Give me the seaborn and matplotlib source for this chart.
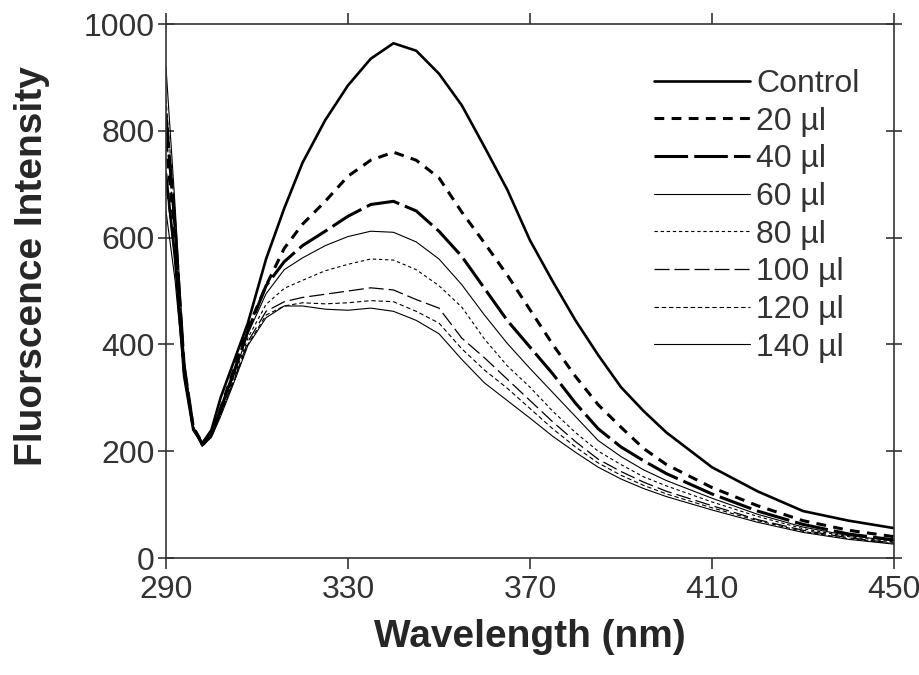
import numpy as np
import pandas as pd
import matplotlib
matplotlib.use('Agg')
import matplotlib.pyplot as plt
import seaborn as sns

# wavelength grid (nm)
wavelength = [290, 292, 294, 296, 298, 300, 302, 305, 308, 312, 316, 320, 325, 330, 335,
              340, 345, 350, 355, 360, 365, 370, 375, 380, 385, 390, 395, 400, 410, 420,
              430, 440, 450]

control = [720, 560, 340, 240, 215, 240, 300, 370, 440, 560, 655, 740, 820, 885, 935,
           964, 950, 907, 848, 770, 690, 595, 518, 445, 380, 320, 275, 235, 170, 125,
           88, 70, 56]
ul_20 = [780, 600, 350, 245, 215, 235, 280, 355, 430, 510, 580, 625, 668, 715, 745,
         760, 745, 712, 648, 590, 530, 465, 400, 340, 287, 245, 205, 175, 132, 98,
         70, 52, 40]
ul_40 = [830, 620, 360, 245, 212, 232, 278, 350, 425, 510, 555, 585, 612, 640, 662,
         668, 650, 612, 565, 505, 445, 395, 345, 290, 242, 208, 182, 158, 120, 88,
         63, 45, 34]
ul_60 = [650, 520, 340, 240, 214, 232, 275, 345, 420, 495, 540, 562, 585, 602, 612,
         610, 592, 560, 512, 455, 402, 355, 310, 265, 220, 190, 165, 145, 112, 82,
         58, 42, 32]
ul_80 = [800, 610, 350, 242, 210, 230, 272, 340, 412, 475, 505, 520, 538, 550, 560,
         558, 540, 510, 470, 410, 360, 320, 275, 235, 200, 175, 152, 135, 105, 78,
         55, 40, 30]
ul_100 = [700, 560, 340, 240, 212, 230, 270, 335, 405, 462, 480, 488, 494, 500, 506,
          502, 484, 468, 412, 375, 335, 295, 255, 218, 185, 162, 142, 125, 98, 72,
          52, 38, 28]
ul_120 = [860, 640, 360, 245, 208, 228, 268, 332, 400, 455, 472, 478, 476, 478, 482,
          480, 462, 440, 392, 352, 318, 280, 242, 208, 178, 155, 136, 120, 94, 70,
          50, 36, 27]
ul_140 = [920, 660, 370, 248, 210, 226, 265, 330, 398, 450, 472, 472, 466, 464, 468,
          462, 445, 420, 372, 328, 295, 262, 228, 198, 170, 148, 130, 115, 90, 67,
          48, 35, 26]

labels = ['Control', '20 \u00b5l', '40 \u00b5l', '60 \u00b5l', '80 \u00b5l',
          '100 \u00b5l', '120 \u00b5l', '140 \u00b5l']
series = [control, ul_20, ul_40, ul_60, ul_80, ul_100, ul_120, ul_140]

# line style for each curve: (linewidth, dash pattern)
styles = [(1.9, ''), (2.2, (3.2, 2.4)), (2.2, (11, 2)), (0.8, ''),
          (0.8, (3, 2.5)), (0.9, (12, 4)), (0.8, (4, 2.5)), (0.8, '')]

df = pd.DataFrame({'Wavelength': np.tile(wavelength, len(series)),
                   'Intensity': np.concatenate(series),
                   'Sample': np.repeat(labels, len(wavelength))})

sns.set_style('ticks')
plt.rcParams['font.family'] = ['Liberation Sans', 'DejaVu Sans']

fig, ax = plt.subplots(figsize=(9.2, 6.75), dpi=100)
fig.subplots_adjust(left=0.1804, right=0.9717, bottom=0.1733, top=0.9644)

for lab, (lw, dash) in zip(labels, styles):
    sub = df[df['Sample'] == lab]
    line = sns.lineplot(data=sub, x='Wavelength', y='Intensity', ax=ax, color='black',
                        linewidth=lw, label=lab, legend=False).lines[-1]
    if dash:
        line.set_dashes(dash)

ax.set_xlim(290, 450)
ax.set_ylim(0, 1000)
ax.set_xticks([290, 330, 370, 410, 450])
ax.set_yticks([0, 200, 400, 600, 800, 1000])

for s in ax.spines.values():
    s.set_visible(True)
    s.set_linewidth(1.2)
    s.set_color('#333333')

ax.tick_params(axis='both', labelsize=23, colors='#333333', labelcolor='#333333',
               width=1.2, length=8, direction='out', top=True, right=True,
               labeltop=False, labelright=False, pad=4)
ax.tick_params(axis='y', which='both', left=True, direction='inout', length=12, pad=2)
ax.tick_params(axis='y', right=True)

ax.set_xlabel('Wavelength (nm)', fontsize=28, fontweight='bold', labelpad=10)
ax.set_ylabel('Fluorscence Intensity', fontsize=28, fontweight='bold')
ax.yaxis.set_label_coords(-0.159, 0.547)

handles = ax.get_lines()
leg = ax.legend(handles, labels, loc='upper left', bbox_to_anchor=(0.67, 0.916),
                frameon=False, fontsize=23, handlelength=3.0, handletextpad=0.2,
                labelspacing=0.24, borderpad=0, borderaxespad=0)
for t in leg.get_texts():
    t.set_color('#333333')

fig.savefig('out.png', dpi=100)
